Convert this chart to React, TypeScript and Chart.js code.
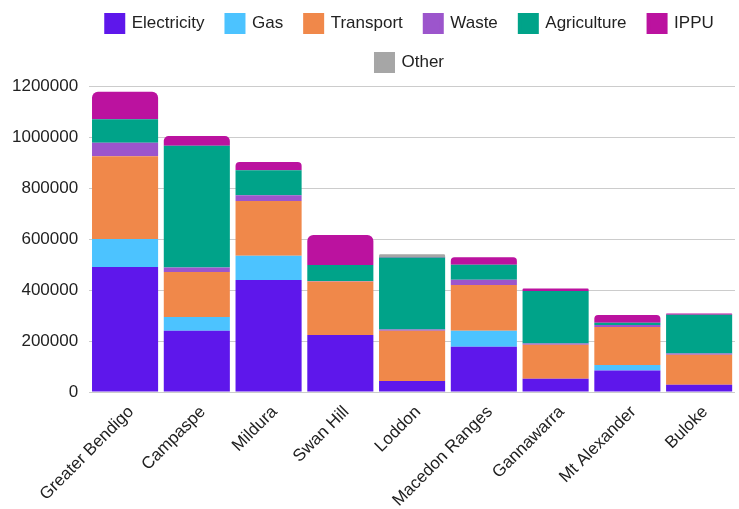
import React, { useEffect, useRef } from "react";
import { Chart, registerables } from "chart.js";

Chart.register(...registerables);

const categories = [
  "Greater Bendigo",
  "Campaspe",
  "Mildura",
  "Swan Hill",
  "Loddon",
  "Macedon Ranges",
  "Gannawarra",
  "Mt Alexander",
  "Buloke",
];

const electricity = [490000, 240000, 439000, 224000, 43000, 177000, 52000, 84000, 28000];
const gas = [110000, 54000, 95000, 0, 0, 63000, 0, 22000, 0];
const transport = [325000, 177000, 215000, 209000, 197000, 180000, 133000, 149000, 118000];
const waste = [52000, 17000, 23000, 2000, 5000, 20000, 5500, 8000, 5000];
const agriculture = [93000, 478000, 98000, 63000, 282000, 59000, 206000, 9000, 152000];
const ippu = [107000, 38000, 32000, 118000, 2500, 29000, 9000, 30000, 5000];
const other = [0, 0, 0, 0, 10500, 0, 0, 0, 0];

const yTicks = [0, 200000, 400000, 600000, 800000, 1000000, 1200000];

const seriesNames = ["Electricity", "Gas", "Transport", "Waste", "Agriculture", "IPPU", "Other"];
const seriesColors = ["#5E17EB", "#4CC3FF", "#F0884A", "#9C55CC", "#00A389", "#BB129F", "#A6A6A6"];
const seriesValues = [electricity, gas, transport, waste, agriculture, ippu, other];

const FONT = "'Liberation Sans', Arial, Helvetica, sans-serif";

const legendShift = {
  id: "legendShift",
  afterLayout(chart: any) {
    const l = chart.legend;
    if (!l) return;
    l.left += 42;
    l.right += 42;
    l.top -= 5;
    l.bottom -= 5;
  },
};

export default function App() {
  const ref = useRef<HTMLCanvasElement | null>(null);

  useEffect(() => {
    document.body.style.margin = "0";
    if (!ref.current) return;
    const chart = new Chart(ref.current, {
      type: "bar",
      data: {
        labels: categories,
        datasets: seriesNames.map((name, i) => ({
          label: name,
          data: seriesValues[i],
          backgroundColor: seriesColors[i],
          borderColor: seriesColors[i],
          borderWidth: 0,
          borderRadius: 6,
          categoryPercentage: 0.921,
          barPercentage: 1,
        })),
      },
      options: {
        animation: false,
        responsive: true,
        maintainAspectRatio: false,
        layout: { padding: { left: 1, right: 4, top: -2, bottom: 0 } },
        plugins: {
          tooltip: { enabled: false },
          legend: {
            position: "top",
            align: "center",
            labels: {
              color: "#222",
              font: { family: FONT, size: 17 },
              boxWidth: 17,
              boxHeight: 17,
              padding: 22,
              generateLabels: (c: any) =>
                (Chart.defaults.plugins.legend.labels as any)
                  .generateLabels(c)
                  .map((it: any) => ({ ...it, lineWidth: 4, strokeStyle: it.fillStyle })),
            },
          },
        },
        scales: {
          x: {
            stacked: true,
            grid: { display: false, drawTicks: false },
            border: { display: false },
            afterFit: (s: any) => {
              s.height = 117;
            },
            ticks: {
              color: "#222",
              font: { family: FONT, size: 17 },
              minRotation: 45,
              maxRotation: 45,
              autoSkip: false,
              padding: 10,
              labelOffset: 6,
            },
          },
          y: {
            stacked: true,
            min: 0,
            max: 1200000,
            grid: { color: "#cccccc", drawTicks: false },
            border: { display: false },
            afterBuildTicks: (axis: any) => {
              axis.ticks = yTicks.map((v) => ({ value: v }));
            },
            ticks: {
              color: "#222",
              font: { family: FONT, size: 17 },
              padding: 11,
              callback: (v: any) => String(v),
            },
          },
        },
      },
      plugins: [legendShift],
    });
    return () => chart.destroy();
  }, []);

  return (
    <div style={{ width: 739, height: 509, position: "relative" }}>
      <canvas ref={ref} />
    </div>
  );
}
